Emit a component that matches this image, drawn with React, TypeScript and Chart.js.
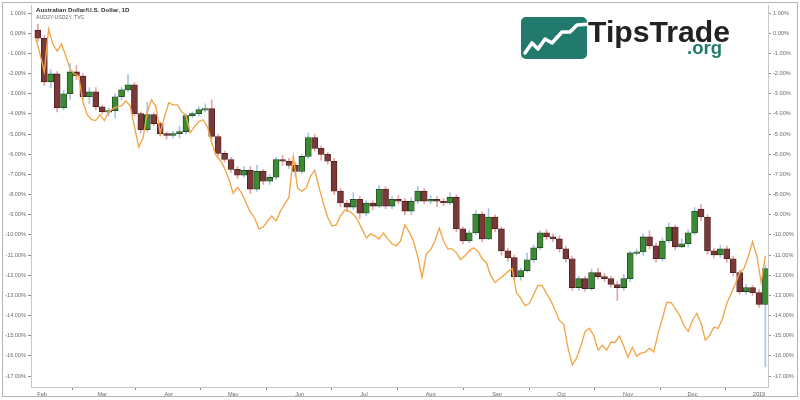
import React, { useEffect, useRef } from "react";
import { Chart, registerables } from "chart.js";

Chart.register(...registerables);

// ---- Data (percent change) ----
// Candles: one candle every 3 days starting 2018-01-30
const candleFirstDate = "2018-01-30";
const candleStepDays = 3;

const candleOpen = [
  0.15, -0.25, -2.41, -2.02, -3.69, -3.0, -1.92, -2.12, -3.15, -2.91,
  -3.65, -3.89, -3.84, -3.15, -2.81, -2.56, -3.99, -4.78, -4.04, -4.48,
  -4.98, -5.07, -4.98, -4.88, -4.09, -3.99, -3.79, -3.74, -5.12, -5.96,
  -6.26, -6.75, -7.04, -6.8, -7.73, -6.85, -7.34, -7.14, -6.26, -6.35,
  -6.55, -6.85, -6.11, -5.17, -5.71, -6.01, -6.35, -7.83, -8.42, -8.62,
  -8.23, -8.92, -8.42, -8.57, -7.73, -8.57, -8.23, -8.33, -8.82, -8.33,
  -7.83, -8.33, -8.23, -8.33, -8.42, -8.13, -9.7, -10.3, -9.9, -8.97,
  -10.2, -9.11, -9.7, -10.79, -11.13, -12.07, -11.77, -11.23, -10.64, -9.9,
  -10.1, -10.2, -10.69, -11.18, -12.61, -12.17, -12.66, -11.87, -12.07, -12.17,
  -12.46, -12.61, -12.17, -10.89, -10.84, -10.1, -10.54, -11.18, -10.3, -9.61,
  -10.59, -10.44, -9.9, -8.72, -9.11, -10.79, -10.99, -10.69, -11.18, -11.87,
  -12.81, -12.61, -12.86, -13.45,
];

const candleClose = [
  -0.25, -2.41, -2.02, -3.69, -3.0, -1.92, -2.12, -3.15, -2.91, -3.65,
  -3.89, -3.84, -3.15, -2.81, -2.56, -3.99, -4.78, -4.04, -4.48, -4.98,
  -5.07, -4.98, -4.88, -4.09, -3.99, -3.79, -3.74, -5.12, -5.96, -6.26,
  -6.75, -7.04, -6.8, -7.73, -6.85, -7.34, -7.14, -6.26, -6.35, -6.55,
  -6.85, -6.11, -5.17, -5.71, -6.01, -6.35, -7.83, -8.42, -8.62, -8.23,
  -8.92, -8.42, -8.57, -7.73, -8.57, -8.23, -8.33, -8.82, -8.33, -7.83,
  -8.33, -8.23, -8.33, -8.42, -8.13, -9.7, -10.3, -9.9, -8.97, -10.2,
  -9.11, -9.7, -10.79, -11.13, -12.07, -11.77, -11.23, -10.64, -9.9, -10.1,
  -10.2, -10.69, -11.18, -12.61, -12.17, -12.66, -11.87, -12.07, -12.17, -12.46,
  -12.61, -12.17, -10.89, -10.84, -10.1, -10.54, -11.18, -10.3, -9.61, -10.59,
  -10.44, -9.9, -8.82, -9.11, -10.79, -10.99, -10.69, -11.18, -11.87, -12.81,
  -12.61, -12.86, -13.45, -11.67,
];

const candleHigh = [
  0.45, -0.1, -1.8, -1.9, -2.85, -1.5, -1.6, -2.0, -2.7, -2.7,
  -3.55, -3.7, -3.0, -2.7, -2.05, -2.45, -3.9, -3.4, -3.95, -4.4,
  -4.9, -4.85, -4.6, -4.0, -3.9, -3.65, -3.5, -3.3, -5.0, -5.85,
  -6.15, -6.6, -6.6, -6.6, -6.55, -6.75, -7.0, -6.15, -6.05, -6.2,
  -6.4, -6.0, -4.95, -5.0, -5.6, -5.9, -6.2, -7.7, -8.3, -7.9,
  -8.1, -8.3, -8.3, -7.55, -7.6, -8.1, -8.05, -8.2, -8.15, -7.6,
  -7.7, -8.05, -8.1, -8.2, -7.9, -8.0, -9.6, -9.75, -8.8, -8.85,
  -8.7, -9.0, -9.6, -10.65, -11.0, -11.65, -10.9, -10.5, -9.8, -9.75,
  -9.95, -10.05, -10.55, -11.05, -12.05, -12.05, -11.7, -11.65, -11.9, -12.05,
  -12.3, -11.95, -10.8, -10.7, -9.95, -9.8, -10.4, -10.15, -9.4, -9.5,
  -10.2, -9.75, -8.65, -8.5, -9.0, -10.65, -10.5, -10.55, -11.05, -11.75,
  -12.45, -12.5, -12.7, -11.5,
];

const candleLow = [
  -0.4, -2.6, -2.7, -3.9, -3.8, -3.3, -2.3, -3.3, -3.5, -3.8,
  -4.0, -4.1, -4.2, -3.3, -2.9, -4.1, -4.95, -4.9, -4.6, -5.1,
  -5.25, -5.2, -5.2, -5.0, -4.2, -4.1, -3.9, -5.25, -6.1, -6.4,
  -6.9, -7.2, -7.15, -7.95, -7.85, -7.5, -7.5, -7.25, -6.55, -6.7,
  -7.1, -6.95, -6.2, -5.85, -6.3, -6.5, -8.0, -8.6, -8.85, -8.75,
  -9.2, -9.05, -8.75, -8.65, -8.7, -8.7, -8.45, -9.0, -9.0, -8.45,
  -8.45, -8.45, -8.6, -8.55, -8.5, -9.85, -10.45, -10.4, -10.0, -10.35,
  -10.25, -9.85, -11.0, -11.3, -12.2, -12.25, -11.85, -11.35, -10.75, -10.25,
  -10.35, -10.85, -11.35, -12.75, -12.75, -12.8, -12.75, -12.2, -12.3, -12.6,
  -13.25, -12.75, -12.3, -11.0, -11.0, -10.7, -11.35, -11.3, -10.4, -10.75,
  -10.65, -10.6, -10.0, -9.3, -10.95, -11.15, -11.1, -11.35, -12.05, -12.95,
  -12.95, -13.0, -13.6, -16.55,
];

// Line: AUD2Y-USD2Y spread, one point every 2 days starting 2018-01-29
const spreadFirstDate = "2018-01-29";
const spreadStepDays = 2;
const spreadValues = [
  -0.25, -1.03, -1.92, 0.2, -0.54, -0.89, -0.54, -1.13, -1.77, -2.02,
  -2.12, -3.4, -4.04, -4.29, -4.33, -4.04, -4.33, -3.89, -3.74, -3.65,
  -3.6, -3.35, -3.6, -4.63, -5.65, -5.2, -3.89, -3.3, -3.65, -4.95,
  -4.14, -3.45, -3.55, -3.55, -3.89, -4.09, -4.93, -4.63, -4.38, -4.29,
  -4.63, -5.42, -6.06, -6.31, -6.7, -7.24, -7.93, -7.64, -7.93, -8.42,
  -8.87, -9.16, -9.7, -9.61, -9.31, -9.06, -9.31, -8.82, -8.47, -8.13,
  -6.11, -7.68, -7.83, -7.68, -7.09, -6.8, -7.64, -8.42, -9.11, -9.56,
  -9.51, -9.06, -8.77, -8.82, -8.97, -9.26, -9.7, -10.15, -9.95, -10.05,
  -10.2, -9.9, -10.2, -10.44, -10.54, -10.3, -9.51, -9.85, -10.3, -11.08,
  -12.12, -10.94, -10.74, -10.3, -9.66, -10.3, -10.69, -10.69, -10.89, -11.23,
  -11.03, -10.79, -10.64, -10.79, -11.18, -11.38, -12.02, -12.36, -12.17, -12.02,
  -11.82, -11.67, -12.86, -13.15, -13.5, -13.4, -12.96, -12.51, -12.51, -12.91,
  -13.25, -13.74, -14.24, -14.43, -15.6, -16.45, -16.11, -15.52, -14.78, -14.63,
  -14.98, -15.71, -15.47, -15.71, -15.32, -15.32, -15.02, -15.52, -16.06, -15.57,
  -16.01, -15.86, -15.81, -15.62, -15.81, -14.88, -14.14, -13.35, -13.35, -13.65,
  -13.99, -14.48, -14.78, -14.24, -13.89, -14.38, -15.22, -14.98, -14.58, -14.63,
  -14.14, -13.4, -12.91, -12.41, -11.87, -11.67, -11.08, -10.34, -11.03, -12.36,
  -11.03,
];

// Axis ticks
const monthTickDates = [
  "2018-02-01", "2018-03-01", "2018-04-01", "2018-05-01", "2018-06-01", "2018-07-01",
  "2018-08-01", "2018-09-01", "2018-10-01", "2018-11-01", "2018-12-01", "2019-01-01",
];
const monthTickLabels = ["Feb", "Mar", "Apr", "May", "Jun", "Jul", "Aug", "Sep", "Oct", "Nov", "Dec", "2019"];
const yTickValues = [1, 0, -1, -2, -3, -4, -5, -6, -7, -8, -9, -10, -11, -12, -13, -14, -15, -16, -17];

const X_MIN_DATE = "2018-01-27";
const X_MAX_DATE = "2019-01-05";
const Y_MIN = -17.54;
const Y_MAX = 1.38;

const DAY0 = Date.UTC(2018, 0, 1);
const toDay = (iso: string) => (Date.parse(iso + "T00:00:00Z") - DAY0) / 86400000;

const GREEN = "#3b8b35";
const GREEN_EDGE = "#1d3f1a";
const RED = "#7a3838";
const RED_EDGE = "#4a1f1f";
const GREEN_WICK = "#a6c6e8";
const RED_WICK = "#eba3a3";
const ORANGE = "#f3a548";
const TEAL = "#227a6d";

const fmtPct = (v: number) => {
  const n = Math.abs(v) < 1e-9 ? 0 : v;
  return n.toFixed(2) + "%";
};

export default function App() {
  const canvasRef = useRef<HTMLCanvasElement | null>(null);

  useEffect(() => {
    const canvas = canvasRef.current;
    if (!canvas) return;
    const c0 = toDay(candleFirstDate);
    const s0 = toDay(spreadFirstDate);
    const candleX = candleClose.map((_, i) => c0 + i * candleStepDays);
    const up = candleClose.map((c, i) => c >= candleOpen[i]);

    const wickData = candleX.map((x, i) => ({ x, y: [candleLow[i], candleHigh[i]] }));
    const bodyData = candleX.map((x, i) => ({ x, y: [candleOpen[i], candleClose[i]] }));
    const lineData = spreadValues.map((v, i) => ({ x: s0 + i * spreadStepDays, y: v }));
    const tickDays = monthTickDates.map(toDay);

    const yAxis = (position: string, width: number) => ({
      type: "linear",
      position,
      min: Y_MIN,
      max: Y_MAX,
      grid: { display: true, drawOnChartArea: false, drawTicks: true, tickLength: 3, color: "#8c8c8c" },
      border: { display: true, color: "#c8c8c8" },
      ticks: {
        color: "#6a6a6a",
        padding: 2,
        autoSkip: false,
        font: { size: 5.6, family: "'Liberation Sans', Arial, sans-serif" },
        callback: (v: number) => fmtPct(Number(v)),
      },
      afterBuildTicks: (s: any) => {
        s.ticks = yTickValues.map((value) => ({ value }));
      },
      afterFit: (s: any) => {
        s.width = width;
      },
    });

    const chart = new Chart(canvas, {
      type: "bar",
      data: {
        datasets: [
          {
            type: "line",
            label: "AUD2Y-USD2Y",
            data: lineData,
            borderColor: ORANGE,
            borderWidth: 1.35,
            pointRadius: 0,
            tension: 0,
            fill: false,
            xAxisID: "x",
            yAxisID: "yL",
            order: 0,
          } as any,
          {
            type: "bar",
            label: "bodies",
            data: bodyData,
            backgroundColor: up.map((u) => (u ? GREEN : RED)),
            borderColor: up.map((u) => (u ? GREEN_EDGE : RED_EDGE)),
            borderWidth: 0.8,
            borderSkipped: false,
            barThickness: 6,
            minBarLength: 1.5,
            grouped: false,
            xAxisID: "x",
            yAxisID: "yL",
            order: 1,
          } as any,
          {
            type: "bar",
            label: "wicks",
            data: wickData,
            backgroundColor: up.map((u) => (u ? GREEN_WICK : RED_WICK)),
            borderWidth: 0,
            barThickness: 1,
            grouped: false,
            xAxisID: "x",
            yAxisID: "yL",
            order: 2,
          } as any,
        ],
      },
      options: {
        animation: false,
        responsive: false,
        events: [],
        layout: { padding: { top: 3, left: 0, right: 0, bottom: 0 } },
        plugins: {
          legend: { display: false },
          tooltip: { enabled: false },
          title: { display: false },
        },
        scales: {
          x: {
            type: "linear",
            min: toDay(X_MIN_DATE) - 0.2,
            max: toDay(X_MAX_DATE) + 0.2,
            offset: false,
            grid: { display: true, drawOnChartArea: false, drawTicks: true, tickLength: 3, color: "#8c8c8c" },
            border: { display: true, color: "#c8c8c8" },
            ticks: {
              color: "#6a6a6a",
              padding: 1,
              autoSkip: false,
              maxRotation: 0,
              font: { size: 5.6, family: "'Liberation Sans', Arial, sans-serif" },
              callback: (_v: any, i: number) => monthTickLabels[i],
            },
            afterBuildTicks: (s: any) => {
              s.ticks = tickDays.map((value) => ({ value }));
            },
            afterFit: (s: any) => {
              s.height = 13;
            },
          },
          yL: yAxis("left", 31) as any,
          yR: yAxis("right", 32) as any,
        },
      } as any,
    });

    return () => {
      chart.destroy();
    };
  }, []);

  return (
    <div style={{ position: "absolute", left: 0, top: 0, width: 800, height: 400, background: "#fff", overflow: "hidden" }}>
      <canvas ref={canvasRef} width={800} height={400} style={{ display: "block", width: 800, height: 400 }} />
      <div
        style={{
          position: "absolute",
          left: 2,
          top: 2,
          width: 794,
          height: 393,
          border: "1px solid #b4b4b4",
          pointerEvents: "none",
        }}
      />
      <div
        style={{
          position: "absolute",
          left: 36,
          top: 6,
          fontFamily: "'Liberation Sans', Arial, sans-serif",
          fontWeight: 700,
          fontSize: 6.2,
          lineHeight: "7px",
          color: "#333",
          whiteSpace: "nowrap",
        }}
      >
        Australian Dollar/U.S. Dollar, 1D
      </div>
      <div
        style={{
          position: "absolute",
          left: 36,
          top: 13.5,
          fontFamily: "'Liberation Sans', Arial, sans-serif",
          fontSize: 5.2,
          lineHeight: "6px",
          color: "#666",
          whiteSpace: "nowrap",
        }}
      >
        AUD2Y-USD2Y, TVC
      </div>
      <svg
        width={230}
        height={56}
        viewBox="0 0 230 56"
        style={{ position: "absolute", left: 515, top: 12 }}
      >
        <rect x={6} y={5} width={66} height={42} rx={5} ry={5} fill={TEAL} />
        <polyline
          points="10,41 17,31 23,37 30,27 37,31 47,20 55,20 62,13 76,12"
          fill="none"
          stroke="#ffffff"
          strokeWidth={3.6}
          strokeLinejoin="round"
          strokeLinecap="round"
        />
        <text
          x={73}
          y={30}
          fill="#222222"
          fontFamily="'Liberation Sans', Arial, sans-serif"
          fontWeight={700}
          fontSize={30}
          textLength={142}
          lengthAdjust="spacingAndGlyphs"
        >
          TipsTrade
        </text>
        <text
          x={172}
          y={41.5}
          fill={TEAL}
          fontFamily="'Liberation Sans', Arial, sans-serif"
          fontWeight={700}
          fontSize={18}
          textLength={35}
          lengthAdjust="spacingAndGlyphs"
        >
          .org
        </text>
      </svg>
    </div>
  );
}
